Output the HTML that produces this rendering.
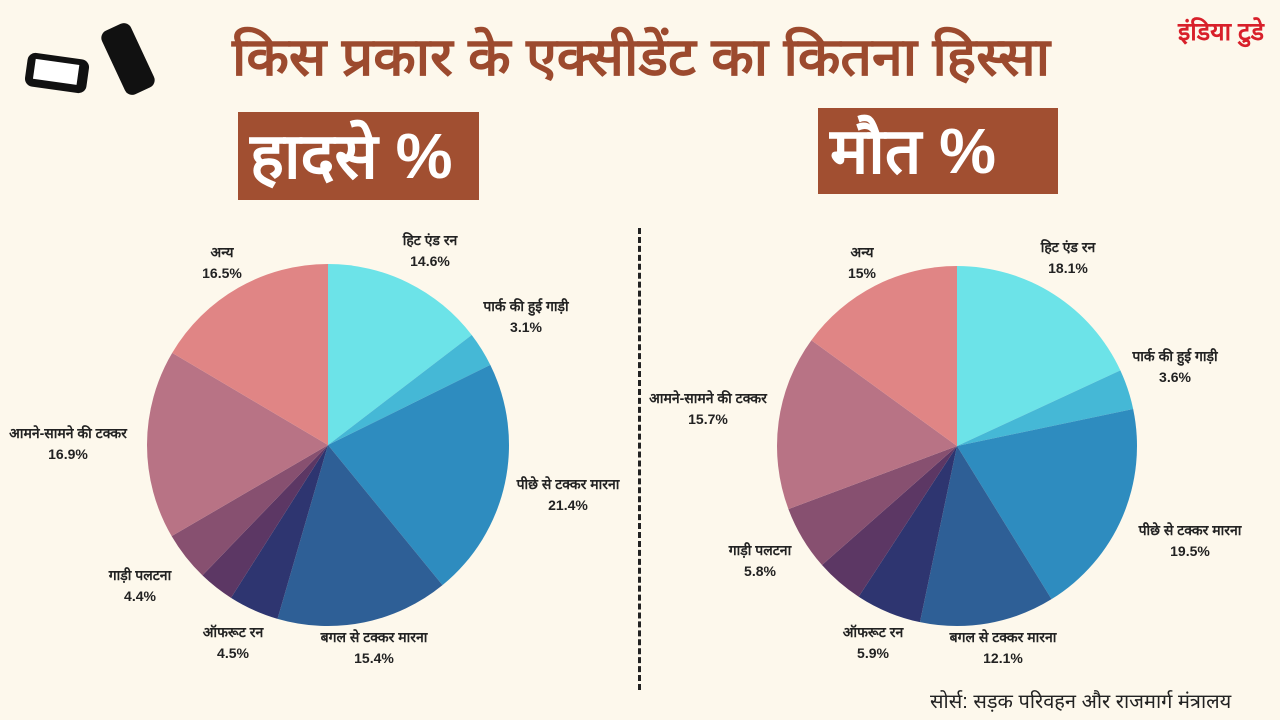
<!DOCTYPE html>
<html><head><meta charset="utf-8"><style>
body{margin:0;width:1280px;height:720px;background:#fdf8ec;overflow:hidden;position:relative;font-family:"Liberation Sans","Noto Sans CJK SC",sans-serif}
.t{position:absolute;font-weight:bold;white-space:nowrap}
.box{position:absolute;background:#a14f31;color:#fff;font-weight:bold;font-size:64px;line-height:88px;padding-left:12px;box-sizing:border-box;white-space:nowrap}
</style></head><body>
<div class="t" style="left:232px;top:18px;font-size:53px;color:#9c4a2e;transform:scaleX(1.045);transform-origin:left top">किस प्रकार के एक्सीडेंट का कितना हिस्सा</div>
<div class="t" style="left:1178px;top:14px;font-size:25px;color:#d8202a">इंडिया टुडे</div>
<svg style="position:absolute;left:20px;top:18px" width="150" height="90"><rect x="6" y="38" width="62" height="34" rx="8" fill="#111" transform="rotate(8 37 55)"/><rect x="92" y="6" width="32" height="70" rx="8" fill="#111" transform="rotate(-25 108 41)"/><rect x="14" y="44" width="44" height="20" fill="#fff" transform="rotate(8 37 55)"/></svg>
<div class="box" style="left:238px;top:112px;width:241px;height:88px">हादसे %</div>
<div class="box" style="left:818px;top:108px;width:240px;height:86px;line-height:86px">मौत %</div>
<div style="position:absolute;left:638px;top:228px;height:462px;border-left:3px dashed #222"></div>
<div class="t" style="left:930px;top:687px;font-size:20px;font-weight:normal;color:#222">सोर्स: सड़क परिवहन और राजमार्ग मंत्रालय</div>
<svg id="pies" width="1280" height="720" style="position:absolute;left:0;top:0" font-family="Liberation Sans, Noto Sans CJK SC, sans-serif" font-weight="bold" font-size="14" fill="#222"></svg>
<script>
const categories=["हिट एंड रन","पार्क की हुई गाड़ी","पीछे से टक्कर मारना","बगल से टक्कर मारना","ऑफरूट रन","","गाड़ी पलटना","आमने-सामने की टक्कर","अन्य"];
const accidents=[14.6,3.1,21.4,15.4,4.5,3.2,4.4,16.9,16.5];
const deaths=[18.1,3.6,19.5,12.1,5.9,4.3,5.8,15.7,15];
const colors=["#6ce3e8","#45b8d6","#2e8cbf","#2e5f96","#2e3570","#5c3764","#875070","#b87385","#e08585"];
const accLabels=[[430,245],[526,311],[568,489],[374,642],[233,637],null,[140,580],[68,438],[222,257]];
const dthLabels=[[1068,252],[1175,361],[1190,535],[1003,642],[873,637],null,[760,555],[708,403],[862,257]];
const svg=document.getElementById('pies');
const NS="http://www.w3.org/2000/svg";
function pie(vals,cx,cy,r,labels,name){
 const tot=vals.reduce((a,b)=>a+b,0);let a0=0;
 vals.forEach((v,i)=>{
  const a1=a0+v/tot*2*Math.PI;
  const x0=cx+r*Math.sin(a0),y0=cy-r*Math.cos(a0),x1=cx+r*Math.sin(a1),y1=cy-r*Math.cos(a1);
  const p=document.createElementNS(NS,'path');
  p.setAttribute('d',`M${cx},${cy}L${x0},${y0}A${r},${r} 0 ${a1-a0>Math.PI?1:0} 1 ${x1},${y1}Z`);
  p.setAttribute('fill',colors[i]);
  
  
  svg.appendChild(p);
  if(labels[i]){
   const t=document.createElementNS(NS,'text');
   t.setAttribute('x',labels[i][0]);t.setAttribute('y',labels[i][1]);t.setAttribute('text-anchor','middle');
   
   
   t.innerHTML=`<tspan x="${labels[i][0]}">${categories[i]}</tspan><tspan x="${labels[i][0]}" dy="21">${v}%</tspan>`;
   svg.appendChild(t);
  }
  a0=a1;
 });
}
pie(accidents,328,445,181,accLabels,'accidents');
pie(deaths,957,446,180,dthLabels,'deaths');
</script>
</body></html>
